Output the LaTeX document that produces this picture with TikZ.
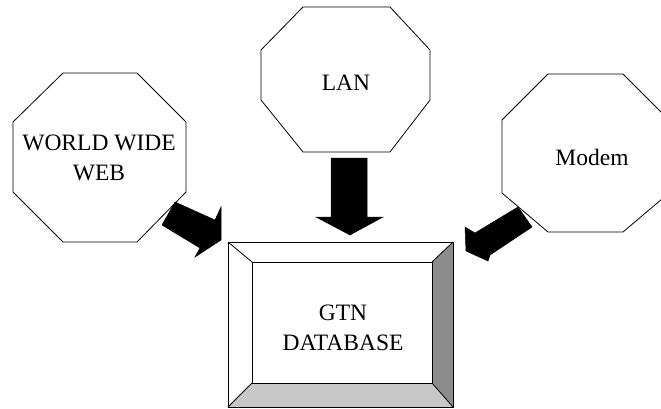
\documentclass[tikz,border=0pt]{standalone}
\usepackage{fontspec}
\setmainfont{Liberation Serif}
\begin{document}
\begin{tikzpicture}[x=1pt,y=-1pt,
  outline/.style={draw=black,line width=0.8pt,line join=miter},
  blockarrow/.style={fill=black,draw=black,line width=0.5pt,line join=miter},
  label/.style={font=\fontsize{23.5}{30}\selectfont,align=center,inner sep=0pt}]
\useasboundingbox (0,0) rectangle (661,408);
\clip (0,0) rectangle (661,408);
% octagons
\draw[outline,fill=white] (63,73) -- (137,73) -- (186,122) -- (186,192) -- (137,242) -- (63,242) -- (13,192) -- (13,122) -- cycle;
\draw[outline,fill=white] (303,7) -- (390,7) -- (430,50) -- (430,100) -- (390,152) -- (303,152) -- (261,100) -- (261,50) -- cycle;
\draw[outline,fill=white] (548,74) -- (623,74) -- (669,120) -- (669,193) -- (623,232) -- (548,232) -- (502,193) -- (502,120) -- cycle;
\node[label] (www) at (99,158) {WORLD WIDE\\WEB};
\node[label] (lan) at (346,83) {LAN};
\node[label] (modem) at (592,157) {Modem};
% database box
\coordinate (o1) at (228,242); \coordinate (o2) at (453,242);
\coordinate (o3) at (453,407); \coordinate (o4) at (228,407);
\coordinate (i1) at (252,262); \coordinate (i2) at (432,262);
\coordinate (i3) at (432,383); \coordinate (i4) at (252,383);
\fill[white] (o1) -- (o2) -- (o3) -- (o4) -- cycle;
\fill[black!45] (o2) -- (o3) -- (i3) -- (i2) -- cycle;
\fill[black!22] (o4) -- (o3) -- (i3) -- (i4) -- cycle;
\draw[outline] (o1) -- (o2) -- (o3) -- (o4) -- cycle;
\draw[outline] (i1) -- (i2) -- (i3) -- (i4) -- cycle;
\draw[outline] (o1) -- (i1) (o2) -- (i2) (o3) -- (i3) (o4) -- (i4);
\node[label] (db) at (343,328) {GTN\\DATABASE};
% block arrows
\fill[blockarrow] (175,202) -- (215,220) -- (221,207) -- (221,240) -- (195,257) -- (200,248) -- (162,225) -- cycle;
\fill[blockarrow] (331,158) -- (367,158) -- (367,217) -- (383,217) -- (350,235) -- (316,217) -- (331,217) -- cycle;
\fill[blockarrow] (518,207) -- (475,233) -- (465,227) -- (466,251) -- (488,261) -- (490,255) -- (532,227) -- cycle;
\end{tikzpicture}
\end{document}
